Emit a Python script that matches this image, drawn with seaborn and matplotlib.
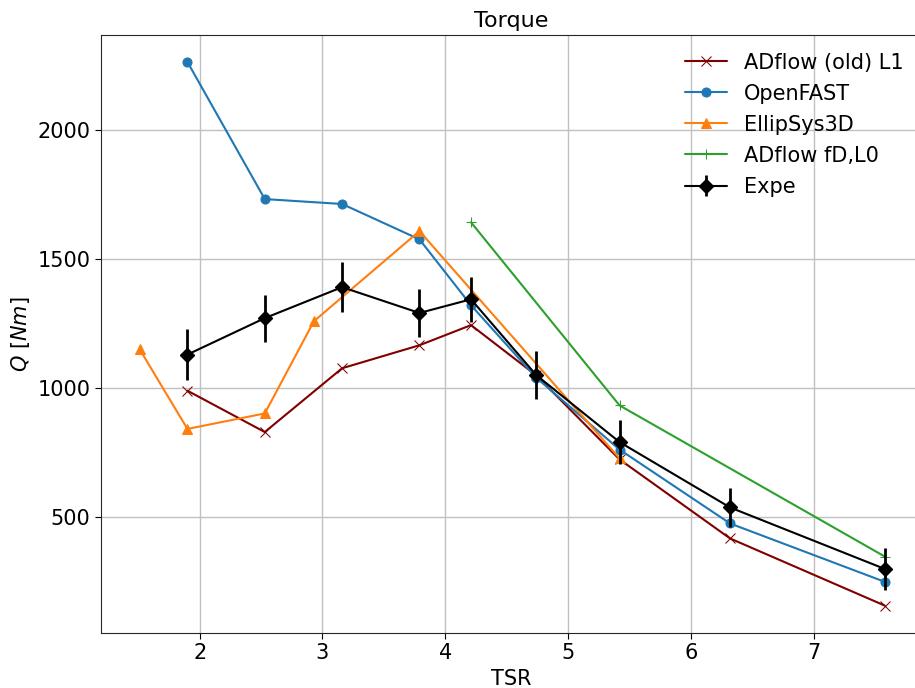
import numpy as np
import pandas as pd
import matplotlib
matplotlib.use("Agg")
import matplotlib.pyplot as plt
import seaborn as sns

# Torque vs tip speed ratio for several solvers and the experiment
tsr_adflow_old = [1.90, 2.53, 3.16, 3.79, 4.21, 4.74, 5.42, 6.32, 7.58]
q_adflow_old = [990, 830, 1077, 1166, 1244, 1050, 724, 418, 158]

tsr_openfast = [1.90, 2.53, 3.16, 3.79, 4.21, 4.74, 5.42, 6.32, 7.58]
q_openfast = [2263, 1732, 1713, 1576, 1321, 1041, 762, 476, 250]

tsr_ellipsys = [1.51, 1.90, 2.53, 2.93, 3.79, 5.42]
q_ellipsys = [1151, 842, 902, 1259, 1608, 728]

tsr_adflow_fd = [4.21, 5.42, 7.58]
q_adflow_fd = [1642, 933, 348]

tsr_expe = [1.90, 2.53, 3.16, 3.79, 4.21, 4.74, 5.42, 6.32, 7.58]
q_expe = [1130, 1271, 1391, 1291, 1344, 1051, 791, 538, 300]
q_expe_err = [98, 91, 97, 93, 87, 93, 85, 77, 80]

sns.set_style("ticks")
plt.rcParams["font.family"] = ["DejaVu Sans"]
plt.rcParams["font.size"] = 15
plt.rcParams["text.color"] = "black"
plt.rcParams["axes.labelcolor"] = "black"
plt.rcParams["xtick.color"] = "black"
plt.rcParams["ytick.color"] = "black"

fig = plt.figure(figsize=(9.15, 6.88), dpi=100)
ax = fig.add_axes([0.1104, 0.080, 0.8973, 0.869])

series = [
    ("ADflow (old) L1", tsr_adflow_old, q_adflow_old, "#800000", "x", 6.5),
    ("OpenFAST", tsr_openfast, q_openfast, "#1f77b4", "o", 6.5),
    ("EllipSys3D", tsr_ellipsys, q_ellipsys, "#ff7f0e", "^", 6.5),
    ("ADflow fD,L0", tsr_adflow_fd, q_adflow_fd, "#2ca02c", "+", 6.5),
]
for name, x, y, color, marker, ms in series:
    df = pd.DataFrame({"TSR": x, "Q": y})
    sns.lineplot(data=df, x="TSR", y="Q", ax=ax, sort=False, color=color,
                 marker=marker, markersize=ms, markeredgecolor=color,
                 linewidth=1.5, label=name, estimator=None)

ax.errorbar(tsr_expe, q_expe, yerr=q_expe_err, color="black", marker="D",
            markersize=7, linewidth=1.5, elinewidth=2, label="Expe")

ax.set_xlim(1.196, 7.884)
ax.set_ylim(52, 2367)
ax.set_xticks([2, 3, 4, 5, 6, 7])
ax.set_yticks([500, 1000, 1500, 2000])
ax.grid(True, color="#c0c0c0", linewidth=1)
ax.set_axisbelow(True)
for s in ax.spines.values():
    s.set_color("#262626")
ax.tick_params(labelsize=15, length=4)

ax.set_title("Torque", fontsize=16)
ax.set_xlabel("TSR", fontsize=15)
ax.set_ylabel(r"$Q\ [Nm]$", fontsize=15)

ax.legend(loc="upper right", frameon=False, fontsize=15,
          bbox_to_anchor=(0.995, 0.995), handlelength=2, borderaxespad=0.3,
          labelspacing=0.53)

fig.savefig("out.png", dpi=100)
